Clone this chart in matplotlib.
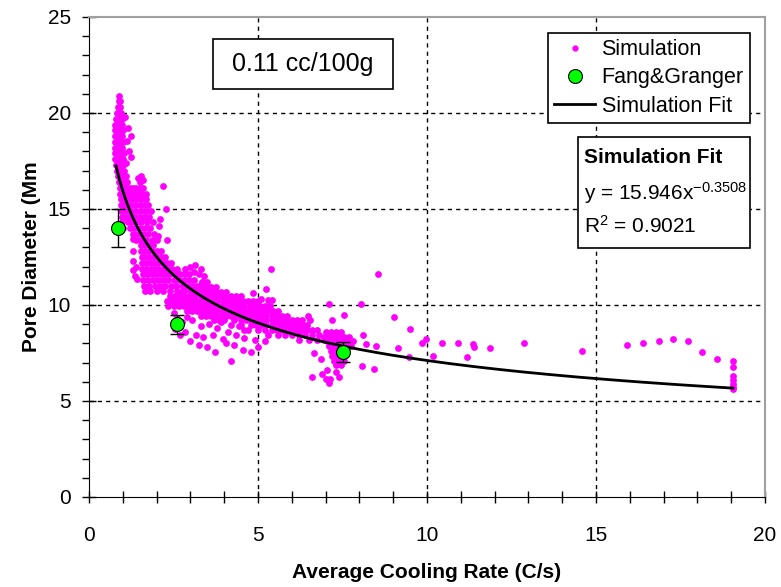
import numpy as np
import matplotlib
matplotlib.use("Agg")
import matplotlib.pyplot as plt
from matplotlib.patches import Rectangle
from matplotlib.lines import Line2D

plt.rcParams['font.family'] = ['Liberation Sans', 'DejaVu Sans']
plt.rcParams['mathtext.fontset'] = 'custom'
plt.rcParams['mathtext.rm'] = 'Liberation Sans'
plt.rcParams['mathtext.it'] = 'Liberation Sans'
plt.rcParams['mathtext.default'] = 'regular'

# ---------------- data ----------------
# Simulation cloud, written as rows (y value, list of x values) per cluster
spike_rows = [
    (20.9, [0.9]), (20.6, [0.88, 0.93]), (20.3, [0.86, 0.92]),
    (20.0, [0.83, 0.89, 0.95]), (19.7, [0.8, 0.86, 0.92, 0.98]),
    (19.4, [0.78, 0.85, 0.91, 0.97]), (19.1, [0.77, 0.84, 0.9, 0.96, 1.02]),
    (18.8, [0.76, 0.83, 0.9, 0.97]), (18.5, [0.76, 0.82, 0.88, 0.95, 1.02]),
    (18.2, [0.76, 0.83, 0.9, 0.97]), (17.9, [0.77, 0.84, 0.91, 0.98, 1.05]),
    (17.6, [0.78, 0.85, 0.92, 1.0]), (17.3, [0.8, 0.87, 0.94, 1.02]),
    (17.0, [0.83, 0.9, 0.97, 1.05]), (16.7, [0.86, 0.93, 1.0, 1.08]),
    (16.4, [0.88, 0.95, 1.03, 1.12]),
]
neck_rows = [
    (16.1, [0.92, 0.98, 1.05, 1.13, 1.2, 1.3, 1.4, 1.5, 1.6]),
    (15.8, [0.93, 1.0, 1.08, 1.17, 1.25, 1.35, 1.45, 1.58, 1.68]),
    (15.5, [0.94, 1.02, 1.1, 1.2, 1.3, 1.42, 1.55, 1.7]),
    (15.2, [0.95, 1.03, 1.12, 1.22, 1.35, 1.5, 1.62, 1.75]),
    (14.9, [0.96, 1.05, 1.15, 1.27, 1.4, 1.55, 1.7, 1.82]),
    (14.6, [0.97, 1.1, 1.22, 1.33, 1.47, 1.62, 1.78]),
    (14.3, [0.98, 1.16, 1.28, 1.4, 1.55, 1.72, 1.88]),
    (14.0, [1.0, 1.22, 1.35, 1.5, 1.65, 1.8]),
    (13.7, [1.3, 1.45, 1.6, 1.75, 1.92]),
    (13.4, [1.4, 1.55, 1.7, 1.85, 2.0]),
]
triangle_rows = [
    (13.1, [1.55, 1.65, 1.78, 1.9]),
    (12.8, [1.55, 1.65, 1.77, 1.9, 2.02, 2.12]),
    (12.5, [1.56, 1.66, 1.78, 1.9, 2.02, 2.14, 2.25]),
    (12.2, [1.57, 1.68, 1.8, 1.92, 2.05, 2.18, 2.3, 2.42]),
    (11.9, [1.58, 1.7, 1.82, 1.95, 2.08, 2.2, 2.33, 2.46, 2.6]),
    (11.6, [1.6, 1.72, 1.85, 1.98, 2.12, 2.25, 2.4, 2.55, 2.7, 2.85]),
    (11.3, [1.6, 1.75, 1.9, 2.05, 2.2, 2.35, 2.5, 2.65, 2.8, 2.95, 3.1]),
    (11.0, [1.62, 1.78, 1.95, 2.1, 2.25, 2.42, 2.58, 2.75, 2.9, 3.05, 3.2]),
    (10.75, [1.65, 1.8, 2.0, 2.2, 2.4, 2.6, 2.8, 3.0, 3.15, 3.3]),
]
band_rows = [
    (11.2, [3.35, 3.5]),
    (10.95, [3.3, 3.45, 3.6, 3.75]),
    (10.7, [2.75, 3.3, 3.45, 3.6, 3.75, 3.9, 4.05]),
    (10.45, [2.4, 2.55, 2.7, 2.85, 3.0, 3.15, 3.3, 3.45, 3.6, 3.75, 3.9, 4.05,
             4.2, 4.35, 4.5]),
    (10.2, [2.3, 2.45, 2.6, 2.75, 2.9, 3.05, 3.2, 3.35, 3.5, 3.65, 3.8, 3.95,
            4.1, 4.25, 4.4, 4.55, 4.7, 4.85, 5.0]),
    (9.95, [2.35, 2.5, 2.65, 2.8, 2.95, 3.1, 3.25, 3.4, 3.55, 3.7, 3.85, 4.0,
            4.15, 4.3, 4.45, 4.6, 4.75, 4.9, 5.05, 5.2, 5.35]),
    (9.7, [2.9, 3.05, 3.2, 3.35, 3.5, 3.65, 3.8, 3.95, 4.1, 4.25, 4.4, 4.55,
           4.7, 4.85, 5.0, 5.15, 5.3, 5.45, 5.6]),
    (9.45, [3.3, 3.45, 3.6, 3.75, 3.9, 4.05, 4.2, 4.35, 4.5, 4.65, 4.8, 4.95,
            5.1, 5.25, 5.4, 5.55, 5.7, 5.85]),
    (9.2, [3.7, 3.85, 4.0, 4.3, 4.5, 4.65, 4.8, 4.95, 5.1, 5.25, 5.4, 5.55,
           5.7, 5.85, 6.0, 6.15, 6.3, 6.55]),
    (8.95, [4.2, 4.5, 4.8, 4.95, 5.1, 5.25, 5.4, 5.55, 5.7, 5.85, 6.0, 6.15,
            6.3, 6.45]),
    (8.7, [4.6, 5.0, 5.2, 5.4, 5.55, 5.7, 5.85, 6.0, 6.15, 6.3, 6.45, 6.6, 6.75]),
    (8.45, [5.3, 5.6, 5.8, 6.0, 6.2, 6.4, 6.6, 6.8]),
    (8.2, [6.2, 6.5, 6.75, 6.95]),
]
cluster_rows = [
    (8.6, [7.0, 7.15, 7.3, 7.45]),
    (8.35, [6.95, 7.1, 7.25, 7.4, 7.55, 7.7]),
    (8.1, [7.05, 7.2, 7.35, 7.5, 7.65, 7.8]),
    (7.85, [7.1, 7.25, 7.4, 7.6, 7.75]),
    (7.6, [7.15, 7.3, 7.45, 7.6]),
    (7.35, [7.2, 7.35, 7.5]),
    (7.1, [7.25, 7.4, 7.55]),
    (6.85, [7.3, 7.45]),
]
# scattered individual simulation points
scatter_x = [1.15, 1.23, 1.12, 1.18, 1.24, 1.1, 1.06, 1.45, 1.55, 1.6, 1.5,
             2.2, 2.27, 2.1, 2.08, 2.3, 1.29, 1.29, 1.31, 1.3, 1.36, 1.42, 1.38,
             2.05, 2.85, 3.0, 3.15, 3.3, 3.1, 3.25, 3.4, 2.95, 3.35,
             2.6, 2.75, 2.9, 3.05, 2.85, 3.18, 3.38, 3.67, 3.97, 3.48, 3.72,
             4.8, 4.56, 4.19, 3.3, 3.55, 3.8, 4.1, 4.35, 4.6, 4.9, 5.2, 2.55,
             2.7, 3.0, 3.25, 4.3, 4.05, 5.0, 4.45, 3.9, 2.5, 4.7,
             6.6, 6.9, 7.0, 7.1, 7.14, 7.41, 6.65, 6.87, 7.05, 7.3,
             5.37, 5.23, 4.85, 5.4, 5.1, 5.3, 4.48,
             8.55, 7.1, 8.06, 9.02, 7.53, 7.2, 6.48, 8.1, 8.2, 8.07, 8.43,
             9.14, 9.5, 9.46, 9.85, 9.98, 10.17, 10.44, 10.91, 11.19, 11.35,
             11.4, 11.85, 12.88, 14.6, 15.93, 16.38, 16.85, 17.27, 17.72,
             18.13, 18.57, 19.05, 19.05, 19.05, 19.05, 19.05, 19.05, 19.05,
             8.48]
scatter_y = [19.2, 18.8, 18.55, 18.0, 17.7, 17.4, 19.8, 16.6, 16.7, 16.5, 16.4,
             16.2, 15.0, 14.5, 14.14, 13.36, 13.45, 12.8, 12.28, 11.8, 11.5, 11.35, 12.0,
             13.6, 11.9, 12.0, 12.1, 11.9, 11.7, 11.6, 11.5, 11.6, 11.2,
             9.3, 9.1, 9.4, 9.2, 8.6, 8.42, 8.33, 8.42, 8.25, 7.81, 7.55,
             7.55, 7.64, 7.09, 8.9, 9.0, 8.8, 8.6, 8.45, 8.3, 8.2, 8.1, 8.75,
             8.45, 8.1, 7.9, 7.9, 8.0, 7.8, 8.9, 9.1, 9.6, 8.7,
             6.25, 6.4, 6.15, 5.95, 6.17, 6.25, 7.52, 7.21, 6.6, 6.5,
             11.85, 10.85, 10.6, 10.24, 10.33, 10.25, 10.41,
             11.63, 10.07, 10.07, 9.4, 9.5, 9.2, 9.42, 8.42, 7.95, 6.8, 6.69,
             7.78, 8.73, 7.29, 8.04, 8.25, 7.35, 8.04, 8.04, 7.29, 7.95,
             7.81, 7.76, 8.04, 7.62, 7.9, 8.04, 8.12, 8.25, 8.12,
             7.55, 7.2, 7.08, 6.75, 6.3, 6.1, 5.9, 5.75, 5.65,
             7.85]

# Fang & Granger experimental points
fg_x = [0.85, 2.6, 7.5]
fg_y = [14.0, 9.0, 7.55]
fg_err = [1.0, 0.5, 0.5]

# Power-law fit reported on the chart: y = a * x^b
fit_a = 15.946
fit_b = -0.3508
fit_xmin, fit_xmax = 0.8, 19.05

# ---------------- build simulation arrays ----------------
sim_x, sim_y = [], []
for rows in (spike_rows, neck_rows, triangle_rows, band_rows, cluster_rows):
    for yv, xs in rows:
        sim_x.extend(xs)
        sim_y.extend([yv] * len(xs))
sim_x.extend(scatter_x)
sim_y.extend(scatter_y)

# ---------------- figure ----------------
fig = plt.figure(figsize=(7.81, 5.87), dpi=100)
ax = fig.add_axes([89 / 781, 1 - 497 / 587, (765 - 89) / 781, (497 - 17) / 587])

ax.set_xlim(0, 20)
ax.set_ylim(0, 25)

for gx in [5, 10, 15]:
    ax.axvline(gx, color='black', lw=1, ls=(0, (3, 3)), zorder=1)
for gy in [5, 10, 15, 20]:
    ax.axhline(gy, color='black', lw=1, ls=(0, (3, 3)), zorder=1)

ax.scatter(sim_x, sim_y, s=24, color='#FF00FF', marker='o', linewidths=0, zorder=2)

fx = np.linspace(fit_xmin, fit_xmax, 300)
ax.plot(fx, fit_a * fx ** fit_b, color='black', lw=2, zorder=3)

ax.errorbar(fg_x, fg_y, yerr=fg_err, fmt='none', ecolor='black', elinewidth=1,
            capsize=5, capthick=1, zorder=4)
ax.plot(fg_x, fg_y, 'o', ms=10, mfc='#00FF00', mec='black', mew=0.8, zorder=5)

# axes style
ax.set_xticks([0, 5, 10, 15, 20])
ax.set_yticks([0, 5, 10, 15, 20, 25])
ax.set_xticks(np.arange(0, 21, 1), minor=True)
ax.set_yticks(np.arange(0, 26, 1), minor=True)
ax.tick_params(axis='x', which='both', direction='inout', length=8, width=1,
               labelsize=15, pad=17)
ax.tick_params(axis='y', which='major', direction='inout', length=10, width=1,
               labelsize=15, pad=8)
ax.tick_params(axis='y', which='minor', direction='out', length=5, width=1)
ax.spines['left'].set_color('black')
ax.spines['bottom'].set_color('black')
ax.spines['top'].set_color('#a0a0a0')
ax.spines['right'].set_color('#a0a0a0')
ax.spines['top'].set_linewidth(1.5)
ax.spines['right'].set_linewidth(1.5)

ax.set_xlabel('Average Cooling Rate (C/s)', fontsize=15, fontweight='bold', labelpad=13)
ax.set_ylabel('Pore Diameter (Mm', fontsize=15, fontweight='bold', labelpad=5)

# legend
handles = [
    Line2D([], [], ls='none', marker='o', ms=3.5, mfc='#FF00FF', mec='#FF00FF'),
    Line2D([], [], ls='none', marker='o', ms=10, mfc='#00FF00', mec='black', mew=0.8),
    Line2D([], [], color='black', lw=2),
]
leg = ax.legend(handles, ['Simulation', 'Fang&Granger', 'Simulation Fit'],
                loc='upper right', bbox_to_anchor=(0.978, 0.967), borderaxespad=0,
                fontsize=15.5, frameon=True, fancybox=False, edgecolor='black',
                framealpha=1, handlelength=1.9, handletextpad=0.3,
                labelspacing=0.33, borderpad=0.3)
leg.get_frame().set_linewidth(1.2)

# fit equation box
ax.add_patch(Rectangle((0.724, 0.518), 0.254, 0.233, transform=ax.transAxes,
                       facecolor='white', edgecolor='black', lw=1.2, zorder=6))
ax.text(0.732, 0.707, 'Simulation Fit', transform=ax.transAxes, fontsize=15,
        fontweight='bold', va='center', ha='left', zorder=7)
ax.text(0.732, 0.634, 'y = 15.946x$^{-0.3508}$', transform=ax.transAxes,
        fontsize=15, va='center', ha='left', zorder=7)
ax.text(0.732, 0.565, 'R$^{2}$ = 0.9021', transform=ax.transAxes, fontsize=15,
        va='center', ha='left', zorder=7)

# concentration label box
ax.add_patch(Rectangle((0.183, 0.850), 0.266, 0.104, transform=ax.transAxes,
                       facecolor='white', edgecolor='black', lw=1.2, zorder=6))
ax.text(0.316, 0.902, '0.11 cc/100g', transform=ax.transAxes, fontsize=18,
        va='center', ha='center', zorder=7)

fig.savefig('out.png', dpi=100)
